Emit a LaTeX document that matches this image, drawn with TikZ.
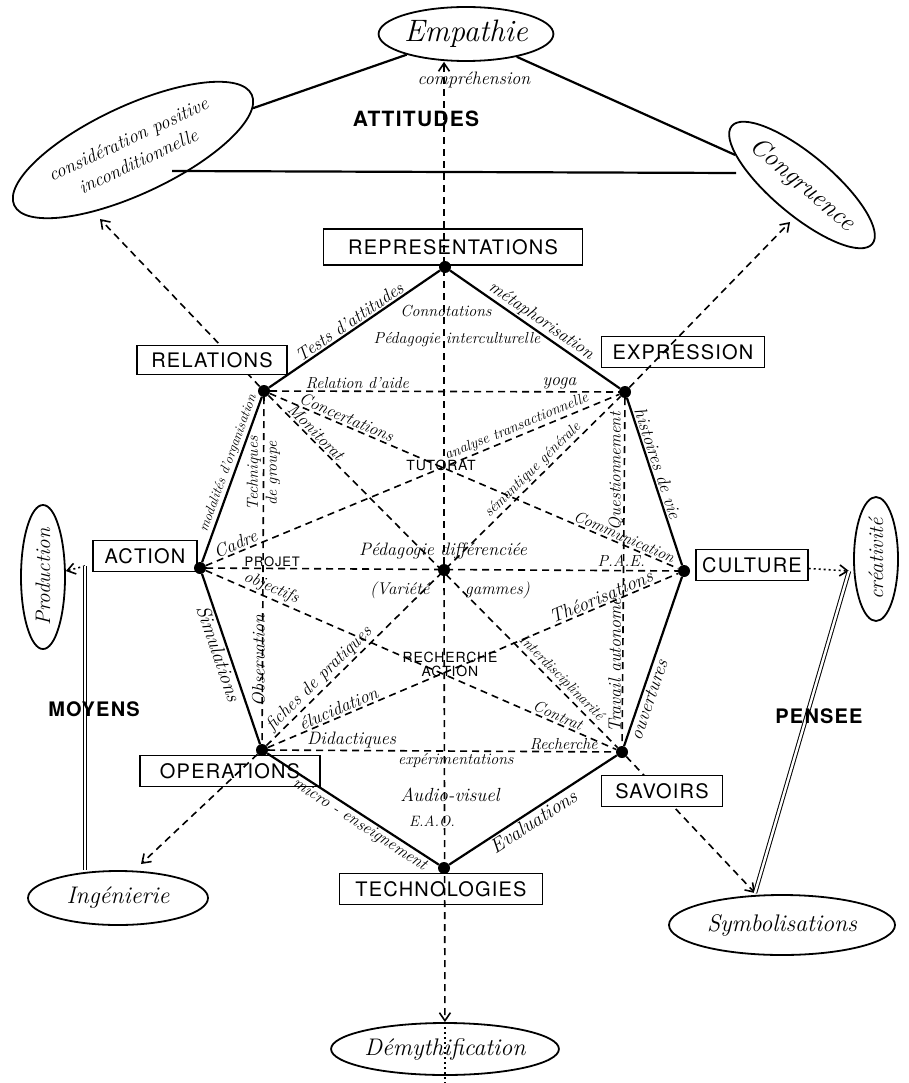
\documentclass[tikz,border=0pt]{standalone}
\usepackage{fontspec}
\newfontfamily\handcaps{TeX Gyre Heros}[LetterSpace=6]
\usepackage{tikz}
\usetikzlibrary{positioning,shapes.geometric,arrows.meta,calc,backgrounds}

\newcommand{\hw}[1]{\fontsize{#1}{#1}\selectfont\itshape}
\newcommand{\caps}[1]{\fontsize{#1}{#1}\selectfont\handcaps}

\begin{document}
\begin{tikzpicture}[x=1pt, y=-1pt, >={Straight Barb[length=8pt, width=11pt]},
  vertex/.style={circle, fill, inner sep=0pt, minimum size=12pt},
  box/.style={draw, line width=1.9pt, fill=white, font=\caps{20}, inner xsep=6pt, minimum height=31pt},
  bubble/.style={ellipse, draw, line width=1.8pt, inner sep=0pt, font=\hw{24}},
  rim/.style={line width=2.2pt},
  link/.style={line width=1.6pt, dash pattern=on 7pt off 5pt},
  dotlink/.style={line width=1.6pt, dash pattern=on 2pt off 3pt},
  dbl/.style={double, double distance=2.4pt, line width=1pt},
  lab/.style={font=\hw{16}, inner sep=1.5pt},
  tag/.style={font=\caps{14}, inner sep=1pt}]

\useasboundingbox (0,0) rectangle (908,1083);

% Attitudes (top)
\node[bubble, minimum width=166pt, minimum height=54pt, font=\hw{31}] (emp) at (466,34) {Empathie};
\node[bubble, rotate=25, minimum width=262pt, minimum height=88pt, align=center,
      font=\fontsize{19}{24}\selectfont\itshape] (consid) at (133,150) {considération positive\\inconditionnelle};
\node[bubble, rotate=-40, minimum width=170pt, minimum height=60pt, font=\hw{26}] (congr) at (802,185) {Congruence};

% Outer bubbles
\node[bubble, rotate=90, minimum width=144pt, minimum height=44pt, font=\hw{21}] (prod) at (43,577) {Production};
\node[bubble, minimum width=180pt, minimum height=54pt] (ingen) at (118,898) {Ingénierie};
\node[bubble, rotate=90, minimum width=124pt, minimum height=44pt, font=\hw{21}] (creat) at (876,559) {créativité};
\node[bubble, minimum width=226pt, minimum height=60pt] (symb) at (782,925) {Symbolisations};
\node[bubble, minimum width=226pt, minimum height=52pt] (demy) at (445,1049) {Démythification};

% Boxes
\node[box, minimum width=259pt, minimum height=36pt] (repB) at (453,247) {REPRESENTATIONS};
\node[box, minimum width=163pt] (exprB) at (683,352) {EXPRESSION};
\node[box, minimum width=150pt, minimum height=29pt] (relB) at (212,360) {RELATIONS};
\node[box, minimum width=104pt] (actB) at (145,556) {ACTION};
\node[box, minimum width=110pt] (cultB) at (752,565) {CULTURE};
\node[box, minimum width=180pt] (operB) at (230,771) {OPERATIONS};
\node[box, minimum width=121pt] (savB) at (662,791) {SAVOIRS};
\node[box, minimum width=203pt] (techB) at (441,889) {TECHNOLOGIES};

% Vertices of the octagon
\foreach \name/\x/\y in {rep/445/267, expr/625/392, cult/684/571, sav/622/752,
                         tech/444/868, oper/262/750, act/200/568, rel/264/391, ctr/444/570}
  \node[vertex] (\name) at (\x,\y) {};

% Free ends
\coordinate (considTip) at (100,219);
\coordinate (congrTip) at (790,222);
\coordinate (ingenTip) at (141,864);
\coordinate (symbTip) at (755,893);
\coordinate (moyTop) at (85,566);
\coordinate (penTop) at (849,571);
\coordinate (hl) at (172,171);
\coordinate (hr) at (736,173);

% Pointers hidden behind the boxes
\begin{scope}[on background layer]
\draw[link, ->] (rel) -- (considTip);
\draw[link, ->] (sav) -- (symbTip);
\end{scope}

% Octagon
\draw[rim] (rel) -- node[lab, sloped, above, pos=.5, font=\hw{18}] {Tests d'attitudes} (rep)
  -- node[lab, sloped, above, pos=.5, font=\hw{18}] {métaphorisation} (expr)
  -- node[lab, sloped, above, pos=.41, font=\hw{18}] {histoires de vie} (cult)
  -- node[lab, sloped, below, pos=.71, font=\hw{19}] {ouvertures} (sav)
  -- node[lab, sloped, below, pos=.53, font=\hw{20}] {Evaluations} (tech)
  -- node[lab, sloped, below, pos=.43, font=\hw{17}] {micro - enseignement} (oper)
  -- node[lab, sloped, below, pos=.55, font=\hw{20}] {Simulations} (act)
  -- node[lab, sloped, above, pos=.58, font=\hw{14}] {modalités d'organisation} (rel);

% Horizontal links
\draw[link] (rel) -- (expr)
  node[lab, pos=.25, above] {Relation d'aide}
  node[lab, pos=.83, above, font=\hw{18}] {yoga};
\draw[link] (act) -- (cult)
  node[tag, pos=.14, above, font=\caps{13}] {PROJET}
  node[lab, pos=.88, above=2pt] {P.A.E.};
\draw[link] (oper) -- (sav)
  node[lab, pos=.24, above, font=\hw{18}] {Didactiques}
  node[lab, pos=.85, above] {Recherche}
  node[lab, pos=.54, below] {expérimentations};

% Vertical links
\draw[link] (rel) -- (oper);
\draw[link] (expr) -- (sav);
\node[lab, rotate=90, align=center, font=\fontsize{16}{19}\selectfont\itshape] (techgr) at ($(rel)!.23!(oper)$) {Techniques\\de groupe};
\node[lab, rotate=90, font=\hw{18}] (observ) at ($(rel)!.75!(oper)+(-4,0)$) {Observation};
\node[lab, rotate=90, font=\hw{17}] (question) at ($(expr)!.22!(sav)+(-8,0)$) {Questionnement};
\node[lab, rotate=90, font=\hw{18}] (travail) at ($(expr)!.76!(sav)+(-8,0)$) {Travail autonome};

% Diagonal links
\draw[link] (rel) -- (sav)
  node[lab, pos=.12, sloped, above, font=\hw{17}] {Monitorat}
  node[lab, pos=.82, sloped, above, font=\hw{15}] {Interdisciplinarité};
\draw[link] (oper) -- (expr)
  node[lab, pos=.17, sloped, above, font=\hw{18}] {fiches de pratiques}
  node[lab, pos=.77, sloped, above, font=\hw{15}] {sémantique générale};
\draw[link] (act) -- (expr)
  node[lab, pos=.08, sloped, above, font=\hw{18}] {Cadre}
  node[lab, pos=.76, sloped, above, font=\hw{15}] {analyse transactionnelle};
\draw[link] (rel) -- (cult)
  node[lab, pos=.18, sloped, above, font=\hw{17}] {Concertations}
  node[lab, pos=.86, sloped, above] {Communication};
\draw[link] (act) -- (sav)
  node[lab, pos=.15, sloped, above, font=\hw{17}] {objectifs}
  node[lab, pos=.85, sloped, above] {Contrat};
\draw[link] (oper) -- (cult)
  node[lab, pos=.18, sloped, above, font=\hw{18}] {élucidation}
  node[lab, pos=.82, sloped, above, font=\hw{19}] {Théorisations};

% Axis
\draw[link, ->] (ctr) -- (ctr |- emp.south);
\draw[link, ->] (ctr) -- (demy);
\draw[dotlink] (demy.north) -- ++(0,62);

% Outer pointers
\draw[link, ->] (expr) -- (congrTip);
\draw[link, ->] (oper) -- (ingenTip);

% Attitudes triangle
\draw[rim] (emp) -- (consid);
\draw[rim] (emp) -- (congr);
\draw[rim] (hl) -- (hr);

% Moyens and Pensee
\draw[dotlink, ->] (moyTop) -- (prod);
\draw[dbl] (moyTop) -- (moyTop |- ingen.north);
\draw[dotlink, ->] (cultB) -- (penTop);
\draw[dbl] (penTop) -- (symbTip);

% Free texts
\node[font=\caps{21}\bfseries] (attitudes) at (416,119) {ATTITUDES};
\node[lab, font=\hw{18}] (compr) at (474,80) {compréhension};
\node[font=\caps{20}\bfseries] (moyens) at (94,709) {MOYENS};
\node[font=\caps{20}\bfseries] (pensee) at (819,716) {PENSEE};
\node[lab] (connot) at (446,311) {Connotations};
\node[lab] (interc) at (457,340) {Pédagogie interculturelle};
\node[tag] (tutorat) at (441,465) {TUTORAT};
\node[tag, align=center] (rechact) at (450,664) {RECHERCHE\\ACTION};
\node[lab, font=\hw{18}] (pdiff) at (443,551) {Pédagogie différenciée};
\node[lab, font=\hw{17}] (variete) at (450,590) {(Variété \hspace{1.4em} gammes)};
\node[lab, font=\hw{19}] (audio) at (450,795) {Audio-visuel};
\node[lab, font=\hw{15}] (eao) at (432,821) {E.A.O.};

\end{tikzpicture}
\end{document}
